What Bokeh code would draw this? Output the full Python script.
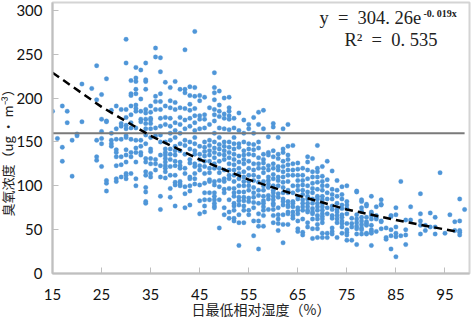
from bokeh.plotting import figure
from bokeh.models import Label, FixedTicker, Range1d, Title
from bokeh.embed import file_html
from bokeh.resources import INLINE

x_ticks = [15, 25, 35, 45, 55, 65, 75, 85, 95]
y_ticks = [0, 50, 100, 150, 200, 250, 300]
x_title = "日最低相对湿度（%）"
y_title = "臭氧浓度（ug • m⁻³）"
threshold = 160
threshold_x = [15, 99]
trend_x = [15, 25, 35, 45, 55, 65, 75, 85, 98]
trend_y = [229, 190, 157, 130, 107, 89, 73, 61, 47]

h15 = [185]
h16 = [154]
h17 = [191, 144, 128]
h18 = [185, 172]
h19 = [152, 111]
h20 = [159, 157]
h21 = [216, 173]
h23 = [211]
h24 = [237, 198, 152, 133, 129]
h25 = [204, 176, 162, 154, 148, 122]
h26 = [222, 174, 173, 106, 103, 94]
h27 = [186, 160, 152, 148, 145]
h28 = [191, 165, 153, 141, 138, 133, 123, 108, 105]
h29 = [187, 171, 168, 153, 133, 124, 110]
h30 = [267, 240, 187, 178, 169, 165, 157, 155, 141, 135, 127, 114, 112, 108]
h31 = [220, 205, 203, 191, 181, 172, 166, 153, 138, 133, 114]
h32 = [235, 223, 219, 210, 205, 192, 188, 185, 166, 152, 143, 138, 127, 108, 100]
h33 = [232, 199, 185, 176, 173, 152, 145, 138, 135]
h34 = [240, 221, 219, 210, 187, 183, 176, 171, 165, 158, 148, 131, 127, 116, 112, 98, 93, 82, 80]
h35 = [191, 184, 177, 175, 171, 165, 155, 142, 139, 131, 125, 114, 110]
h36 = [257, 247, 202, 196, 187, 166, 157, 130, 125, 118]
h37 = [246, 230, 205, 196, 187, 177, 168, 158, 150, 135, 123, 110, 88, 73]
h38 = [218, 191, 178, 170, 150, 142, 138, 135, 131, 127, 123, 120, 116, 109]
h39 = [212, 197, 189, 177, 168, 160, 152, 142, 136, 130, 122, 112, 97, 87]
h40 = [219, 195, 187, 172, 163, 155, 145, 140, 135, 128, 123, 112, 104, 101, 77]
h41 = [210, 189, 178, 170, 160, 148, 140, 127, 123, 120, 105, 102, 100]
h42 = [255, 210, 206, 188, 175, 165, 152, 146, 136, 120, 114, 99, 91, 75]
h43 = [213, 203, 193, 186, 177, 168, 150, 142, 130, 126, 110, 108, 100, 94, 78]
h44 = [276, 212, 202, 188, 180, 172, 163, 155, 148, 140, 136, 125, 122, 114, 108, 102]
h45 = [203, 197, 180, 176, 165, 145, 136, 130, 123, 118, 101, 83, 68]
h46 = [201, 181, 176, 166, 150, 144, 139, 134, 128, 122, 114, 103, 92, 84, 77, 70]
h47 = [189, 170, 152, 146, 140, 135, 128, 120, 115, 107, 105, 92, 84]
h48 = [229, 212, 206, 198, 187, 181, 174, 160, 150, 143, 138, 132, 125, 120, 105, 101, 92, 88, 84, 80, 77, 75]
h49 = [208, 192, 185, 179, 166, 155, 147, 142, 136, 128, 120, 115, 106, 99, 84, 52]
h50 = [200, 182, 177, 165, 150, 145, 140, 135, 130, 118, 108, 105, 96, 92, 75, 67]
h51 = [201, 189, 185, 180, 176, 164, 150, 144, 138, 132, 125, 118, 112, 108, 97, 84, 70, 63]
h52 = [177, 166, 155, 148, 142, 136, 130, 124, 118, 112, 105, 97, 92, 88, 80, 77, 72, 63, 60]
h53 = [183, 163, 148, 144, 134, 127, 120, 114, 108, 100, 93, 87, 83, 78, 67, 58, 32]
h54 = [175, 160, 150, 140, 135, 130, 125, 116, 110, 105, 100, 93, 87, 83, 77, 72, 58]
h55 = [170, 165, 148, 142, 136, 128, 120, 112, 105, 100, 95, 86, 82, 72, 67]
h56 = [178, 160, 147, 141, 135, 125, 118, 112, 106, 98, 92, 87, 81, 75, 60, 43]
h57 = [184, 170, 150, 143, 132, 125, 120, 110, 104, 95, 89, 80, 68, 60, 54, 28]
h58 = [186, 165, 136, 130, 126, 120, 115, 105, 100, 95, 88, 83, 80, 76, 72, 66, 54]
h59 = [156, 138, 135, 123, 118, 110, 106, 102, 98, 89, 85, 73]
h60 = [171, 167, 140, 133, 125, 120, 113, 108, 100, 95, 92, 88, 84, 80, 78, 73, 66, 58]
h61 = [155, 136, 131, 122, 118, 110, 106, 100, 91, 87, 75, 67, 62, 57, 49]
h62 = [165, 142, 138, 128, 122, 116, 110, 104, 98, 92, 85, 82, 78, 67, 56, 35]
h63 = [170, 145, 135, 130, 124, 118, 112, 105, 95, 92, 82, 78, 76, 70, 68, 56]
h64 = [146, 125, 118, 112, 100, 92, 82, 80, 76, 70, 66, 63]
h65 = [126, 119, 112, 106, 100, 95, 88, 85, 75, 72, 68, 60, 51, 48]
h66 = [120, 112, 106, 101, 95, 90, 84, 80, 76, 72, 62, 47, 44]
h67 = [133, 127, 118, 108, 100, 93, 88, 85, 80, 76, 72, 70, 58, 53]
h68 = [131, 116, 110, 103, 97, 92, 85, 80, 74, 70, 68, 62, 51, 40]
h69 = [146, 120, 116, 110, 104, 96, 88, 85, 80, 76, 72, 66, 62, 56, 51, 41]
h70 = [122, 111, 105, 100, 95, 88, 84, 80, 76, 72, 68, 65, 62, 58, 46, 41]
h71 = [128, 107, 100, 92, 85, 75, 68, 46, 41]
h72 = [117, 96, 90, 85, 77, 73, 66, 63, 52, 48, 45]
h73 = [106, 95, 88, 80, 73, 70, 66, 62, 58, 41]
h74 = [99, 90, 85, 78, 74, 67, 64, 60, 57, 53, 46]
h75 = [100, 82, 78, 74, 68, 57, 50, 47, 44, 38]
h76 = [63, 57, 53, 38]
h77 = [94, 93, 67, 62, 58, 54, 51, 45, 33]
h78 = [84, 82, 75, 71, 64, 60, 56, 52, 50, 45]
h79 = [79, 77, 64, 59, 57, 55, 46, 45]
h80 = [88, 70, 68, 66, 62, 55, 50, 48, 46, 32]
h81 = [76, 66, 64, 62, 48]
h82 = [84, 79, 78, 60, 59, 51]
h83 = [52, 41, 39]
h84 = [66, 65, 50, 43, 28]
h85 = [75, 67, 53, 46, 42, 19]
h86 = [105, 43]
h87 = [61, 50, 44, 33]
h88 = [76, 61]
h90 = [91, 68, 60, 55, 45]
h91 = [55, 49]
h92 = [69, 53]
h93 = [64, 53, 45]
h94 = [115]
h95 = [46]
h96 = [67]
h97 = [59, 49]
h98 = [85, 60, 49, 47, 44]
h99 = [73]

humidity_columns = {
    15: h15, 16: h16, 17: h17, 18: h18, 19: h19, 20: h20, 21: h21, 23: h23, 24: h24, 25: h25,
    26: h26, 27: h27, 28: h28, 29: h29, 30: h30, 31: h31, 32: h32, 33: h33, 34: h34, 35: h35,
    36: h36, 37: h37, 38: h38, 39: h39, 40: h40, 41: h41, 42: h42, 43: h43, 44: h44, 45: h45,
    46: h46, 47: h47, 48: h48, 49: h49, 50: h50, 51: h51, 52: h52, 53: h53, 54: h54, 55: h55,
    56: h56, 57: h57, 58: h58, 59: h59, 60: h60, 61: h61, 62: h62, 63: h63, 64: h64, 65: h65,
    66: h66, 67: h67, 68: h68, 69: h69, 70: h70, 71: h71, 72: h72, 73: h73, 74: h74, 75: h75,
    76: h76, 77: h77, 78: h78, 79: h79, 80: h80, 81: h81, 82: h82, 83: h83, 84: h84, 85: h85,
    86: h86, 87: h87, 88: h88, 90: h90, 91: h91, 92: h92, 93: h93, 94: h94, 95: h95, 96: h96,
    97: h97, 98: h98, 99: h99,
}
xs = [h for h, vals in humidity_columns.items() for _ in vals]
ys = [v for vals in humidity_columns.values() for v in vals]

p = figure(width=473, height=321, output_backend="svg", toolbar_location=None,
           x_range=Range1d(15, 100), y_range=Range1d(0, 309),
           min_border_left=53, min_border_right=3, min_border_top=2, min_border_bottom=45,
           margin=(0, 0, -3, -1), background_fill_color="white", border_fill_color="white")
p.grid.visible = False
p.outline_line_color = "#d4d4d4"
p.outline_line_width = 2

for ax, ticks in ((p.xaxis[0], x_ticks), (p.yaxis[0], y_ticks)):
    ax.ticker = FixedTicker(ticks=ticks)
    ax.axis_line_color = "#bfbfbf"
    ax.axis_line_width = 2
    ax.major_tick_line_color = "#bfbfbf"
    ax.major_tick_line_width = 1
    ax.major_tick_in = 6
    ax.major_tick_out = 0
    ax.minor_tick_line_color = None
    ax.major_label_text_font = "Lato"
    ax.major_label_text_font_size = "15px"
    ax.major_label_text_color = "#111111"
p.xaxis[0].major_label_standoff = 15
p.yaxis[0].major_label_standoff = 10

CJK = "Noto Sans CJK SC"
p.xaxis[0].axis_label = x_title
p.xaxis[0].axis_label_text_font = CJK
p.xaxis[0].axis_label_text_font_size = "14px"
p.xaxis[0].axis_label_text_font_style = "normal"
p.xaxis[0].axis_label_text_color = "#222222"
p.xaxis[0].axis_label_standoff = -4

p.add_layout(Title(text=y_title, align="left", offset=57, text_font=CJK, text_font_size="13px",
                   text_font_style="normal", text_color="#222222", standoff=-7), "left")

p.scatter(xs, ys, size=4.5, color="#4f96d8", line_color="#4f96d8", line_width=0.3)
p.line(threshold_x, [threshold, threshold], line_color="#7a7a7a", line_width=2)
p.line(trend_x, trend_y, line_color="black", line_width=2.5, line_dash="8 5")

SERIF = "Liberation Serif"
p.add_layout(Label(x=69.4, y=291, text="y\u00a0\u00a0=\u00a0\u00a0304.\u00a026e", text_font=SERIF, text_font_size="18.5px",
                   text_color="#222222", text_align="left", text_baseline="middle"))
p.add_layout(Label(x=90.6, y=296, text="-0.\u00a0019x", text_font=SERIF, text_font_size="10px", text_font_style="bold",
                   text_color="#222222", text_align="left", text_baseline="middle"))
p.add_layout(Label(x=84, y=266, text="R²\u00a0\u00a0=\u00a0\u00a00.\u00a0535", text_font=SERIF, text_font_size="18.5px",
                   text_color="#222222", text_align="center", text_baseline="middle"))

open("out.html", "w").write(file_html(p, INLINE))
